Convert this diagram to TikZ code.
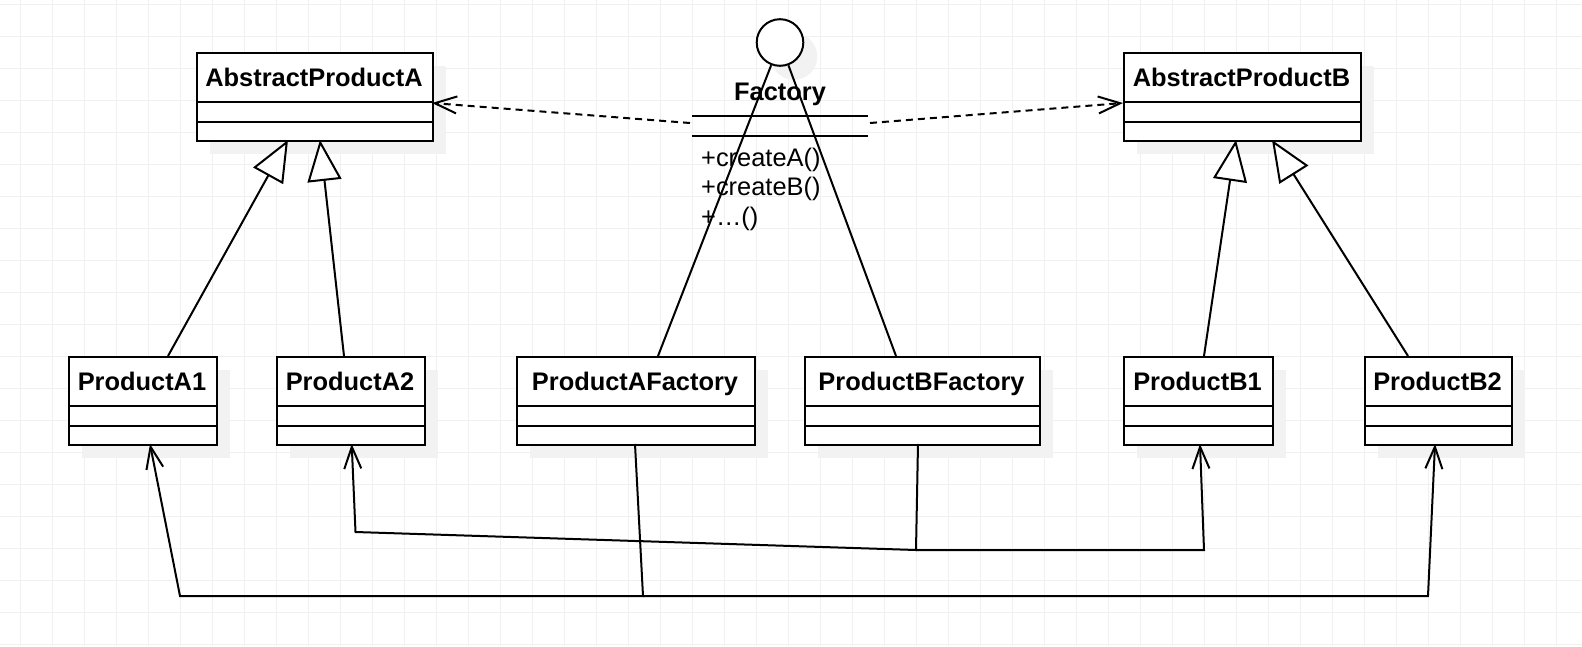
\documentclass[tikz,border=0pt]{standalone}
\usepackage{fontspec}
\setmainfont{Liberation Sans}
\usetikzlibrary{arrows.meta,calc}
\definecolor{gridc}{RGB}{240,240,240}
\definecolor{shadc}{RGB}{242,242,242}
\tikzset{
  gridline/.style={draw=gridc, line width=1pt},
  shad/.style={fill=shadc},
  clsbox/.style={draw=black, fill=white, line width=2.2pt, inner sep=0pt, anchor=north west},
  sepline/.style={draw=black, line width=2.2pt},
  ttl/.style={font=\fontsize{25.4}{30}\selectfont\bfseries, inner sep=0pt, anchor=base},
  mem/.style={font=\fontsize{25.4}{30}\selectfont, inner sep=0pt, anchor=base west},
  conn/.style={draw=black, line width=2pt},
  gen/.style={conn, -{Triangle[open, length=41pt, width=34pt, fill=white]}},
  dep/.style={conn, dash pattern=on 7pt off 5pt, -{Straight Barb[length=22pt, width=17pt]}},
  assoc/.style={conn, -{Straight Barb[length=22pt, width=17pt]}},
}
\newcommand{\umlcls}[5]{%
  \fill[shad] (#2+14,#3+14) rectangle ++(#4,88);
  \node[clsbox, minimum width=#4pt, minimum height=88pt] (#1) at (#2,#3) {};
  \node[ttl] (#1t) at (#2+#4/2,#3+34) {#5};
  \draw[sepline] (#2,#3+50) -- ++(#4,0);
  \draw[sepline] (#2,#3+70) -- ++(#4,0);
}
\begin{document}
\begin{tikzpicture}[x=1pt,y=-1pt]
\useasboundingbox (0,0) rectangle (1582,646);
\fill[white] (0,0) rectangle (1582,646);
% grid
\foreach \i in {0,...,49} {\draw[gridline] (20.3+32*\i,0) -- (20.3+32*\i,646);}
\foreach \j in {0,...,20} {\draw[gridline] (0,4.3+32*\j) -- (1582,4.3+32*\j);}
% classes
\umlcls{absA}{196}{52}{236}{AbstractProductA}
\umlcls{absB}{1123}{52}{237}{AbstractProductB}
\umlcls{pA1}{68}{356}{148}{ProductA1}
\umlcls{pA2}{276}{356}{148}{ProductA2}
\umlcls{fA}{516}{356}{238}{ProductAFactory}
\umlcls{fB}{804}{356}{235}{ProductBFactory}
\umlcls{pB1}{1123}{356}{149}{ProductB1}
\umlcls{pB2}{1364}{356}{147}{ProductB2}
% Factory interface
\fill[shad] (794,56.5) circle (23.3);
\node[circle, draw=black, fill=white, line width=2pt, minimum size=46.6pt, inner sep=0pt] (fac) at (780,42.5) {};
\node[ttl] (factt) at (780,100) {Factory};
\draw[sepline] (692,116) -- (868,116);
\draw[sepline] (692,136) -- (868,136);
\node[mem] (m1t) at (701,166) {+createA()};
\node[mem] (m2t) at (701,195.5) {+createB()};
\node[mem] (m3t) at (701,225) {+\ldots()};
% connection points
\coordinate (dl) at (690,123);
\coordinate (dr) at (870,123);
\coordinate (absAr) at (432,103);
\coordinate (absBl) at (1123,103);
\coordinate (afTop) at (658,356);
\coordinate (bfTop) at (896,356);
\coordinate (a1Top) at (168,356);
\coordinate (a2Top) at (344,356);
\coordinate (b1Top) at (1204,356);
\coordinate (b2Top) at (1408,356);
\coordinate (gA1) at (288,140);
\coordinate (gA2) at (320,140);
\coordinate (gB1) at (1236,140);
\coordinate (gB2) at (1272,140);
\coordinate (afBot) at (635,444);
\coordinate (bfBot) at (918,444);
\coordinate (a1Bot) at (150,444);
\coordinate (a2Bot) at (351.7,444);
\coordinate (b1Bot) at (1200,444);
\coordinate (b2Bot) at (1435,444);
\coordinate (c1) at (643,596);
\coordinate (c2) at (180,596);
\coordinate (c3) at (1428,596);
\coordinate (k1) at (916,550);
\coordinate (k2) at (355.5,532);
\coordinate (k3) at (1204,550);
% dependencies
\draw[dep] (dl) -- (absAr);
\draw[dep] (dr) -- (absBl);
% realization lines
\draw[conn] (fac) -- (afTop);
\draw[conn] (fac) -- (bfTop);
% generalizations
\draw[gen] (a1Top) -- (gA1);
\draw[gen] (a2Top) -- (gA2);
\draw[gen] (b1Top) -- (gB1);
\draw[gen] (b2Top) -- (gB2);
% associations
\draw[assoc] (afBot) -- (c1) -- (c2) -- (a1Bot);
\draw[assoc] (c1) -- (c3) -- (b2Bot);
\draw[assoc] (bfBot) -- (k1) -- (k2) -- (a2Bot);
\draw[assoc] (k1) -- (k3) -- (b1Bot);
\end{tikzpicture}
\end{document}
